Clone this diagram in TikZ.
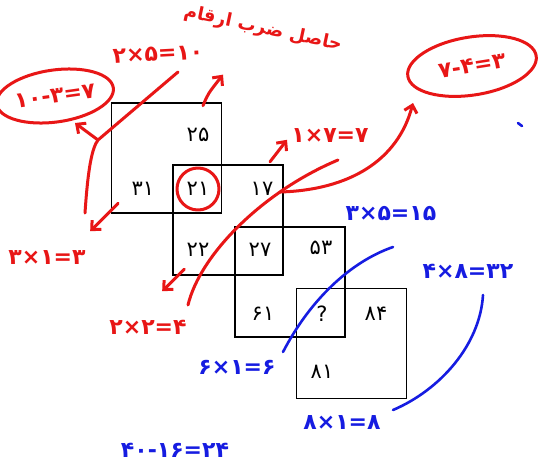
\documentclass[tikz,border=0pt]{standalone}
\usepackage{fontspec}
\usetikzlibrary{arrows.meta,shapes.geometric}
\TeXXeTstate=1
\newfontfamily\farsi[Script=Arabic]{DejaVu Sans}
\newfontfamily\digits{DejaVu Sans}
\definecolor{penred}{RGB}{232,22,22}
\definecolor{penblue}{RGB}{22,28,225}

\begin{document}
\begin{tikzpicture}[x=1pt, y=-1pt, >={Straight Barb[length=7pt,width=13pt]},
  cell/.style={draw, line width=1.8pt, minimum size=110pt, inner sep=0pt},
  num/.style={font=\digits\fontsize{21}{23}\selectfont},
  redpen/.style={draw=penred, line width=3pt, line cap=round, line join=round},
  bluepen/.style={draw=penblue, line width=2.6pt, line cap=round},
  rednote/.style={text=penred, font=\digits\bfseries\fontsize{22}{24}\selectfont, inner sep=1pt},
  bluenote/.style={text=penblue, font=\digits\bfseries\fontsize{22}{24}\selectfont, inner sep=1pt}]
\fill[white] (0,0) rectangle (541,472);
\useasboundingbox (0,0) rectangle (541,472);

% the four overlapping squares
\node[cell] (sq1) at (166.5,158) {};
\node[cell] (sq2) at (228,220) {};
\node[cell] (sq3) at (290,282) {};
\node[cell] (sq4) at (351.5,343.5) {};

\node[num] (n25) at (198,135) {۲۵};
\node[num] (n31) at (143,189) {۳۱};
\node[num] (n21) at (198,189) {۲۱};
\node[num] (n17) at (262,189) {۱۷};
\node[num] (n22) at (198,250) {۲۲};
\node[num] (n27) at (260,250) {۲۷};
\node[num] (n53) at (321,248) {۵۳};
\node[num] (n61) at (263,314) {۶۱};
\node[num] (nq) at (322,314) {?};
\node[num] (n84) at (376,314) {۸۴};
\node[num] (n81) at (322,372) {۸۱};

% red working
\node[redpen, ellipse, minimum width=42pt, minimum height=42pt] (ring21) at (n21) {};
\node[text=penred, font=\farsi\bfseries\fontsize{18}{20}\selectfont, rotate=-12] (title) at (263,29) {\beginR حاصل ضرب ارقام\endR};
\node[rednote, rotate=3] (eq25) at (158,54) {۲×۵=۱۰};
\node[redpen, rednote, ellipse, rotate=8, minimum width=110pt, minimum height=52pt] (ringL) at (55,96) {۱۰-۳=۷};
\node[rednote] (eq31) at (47,258) {۳×۱=۳};
\node[rednote] (eq17) at (330,136) {۱×۷=۷};
\node[redpen, rednote, ellipse, rotate=9, minimum width=130pt, minimum height=58pt] (ringR) at (472,66) {۷-۴=۳};
\node[rednote] (eq22) at (148,327) {۲×۲=۴};

\coordinate (lowL) at (85,213);
\coordinate (forkL) at (98,140);
\coordinate (topL) at (178,72);
\coordinate (tipL) at (75,123);
\coordinate (lowR) at (188,305);
\coordinate (forkR) at (280,192);
\coordinate (topR) at (338,160);
\coordinate (tipR) at (413,103);

\draw[redpen] (lowL) .. controls (88,168) and (92,148) .. (forkL) -- (topL);
\draw[redpen, ->] (forkL) -- (tipL);
\draw[redpen, ->] (n31.south west) ++(-10,4) coordinate (s31) -- ++(-28,28) coordinate (t31);
\draw[redpen, ->] (n25.north) ++(5,-19) coordinate (s25) .. controls ++(5,-12) .. ++(20,-31) coordinate (t25);
\draw[redpen, ->] (n17.north) ++(8,-17) coordinate (s17) -- ++(17,-22) coordinate (t17);
\draw[redpen, ->] (n22.south west) ++(1,9) coordinate (s22) -- ++(-22,22) coordinate (t22);
\draw[redpen] (lowR) .. controls (200,255) and (262,192) .. (topR);
\draw[redpen, ->] (forkR) .. controls (350,190) and (398,160) .. (tipR);

% blue working
\node[bluenote] (eq53) at (391,214) {۳×۵=۱۵};
\node[bluenote] (eq84) at (468,271) {۴×۸=۳۲};
\node[bluenote] (eq61) at (237,367) {۶×۱=۶};
\node[bluenote] (eq81) at (342,423) {۸×۱=۸};
\node[bluenote] (eqsum) at (175,450) {۴۰-۱۶=۲۴};
\coordinate (b1a) at (393,247);
\coordinate (b1b) at (283,352);
\coordinate (b2a) at (483,295);
\coordinate (b2b) at (393,410);
\draw[bluepen] (b1a) .. controls (350,262) and (310,300) .. (b1b);
\draw[bluepen] (b2a) .. controls (480,345) and (440,390) .. (b2b);
\draw[bluepen] (518,123) -- (522,126);
\end{tikzpicture}
\end{document}
